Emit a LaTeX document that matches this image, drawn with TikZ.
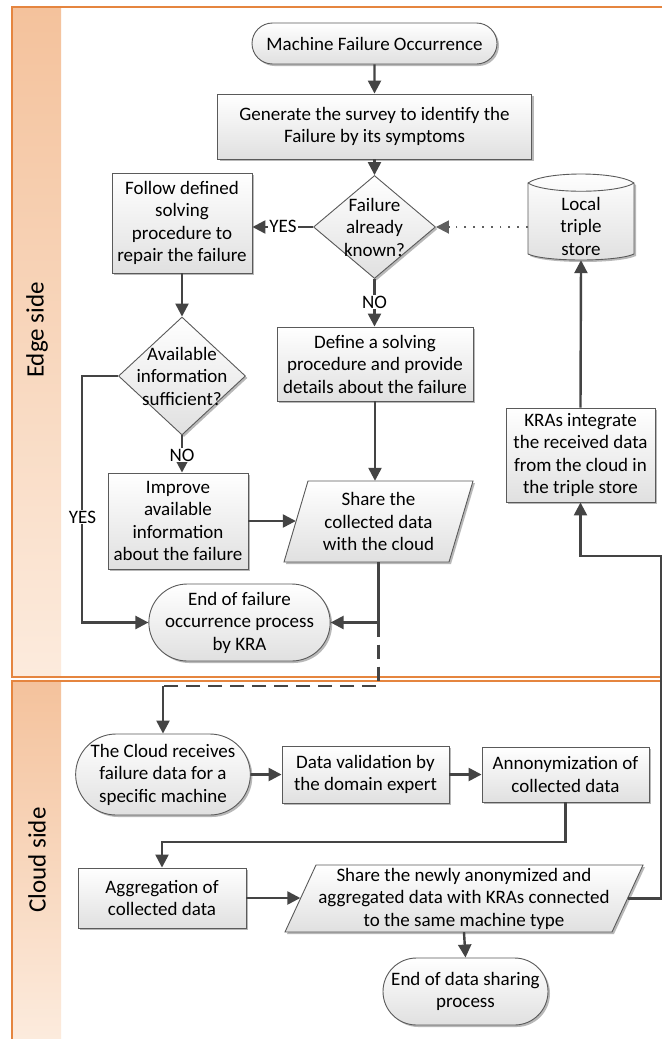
\documentclass[tikz,border=0pt]{standalone}
\usepackage{fontspec}
\setmainfont{Carlito}
\usetikzlibrary{arrows.meta,shapes.geometric,shapes.misc,shadows,calc}

\definecolor{lanebrd}{HTML}{E5853F}
\definecolor{stripTop}{HTML}{F4C29C}
\definecolor{stripBot}{HTML}{FCEBDD}
\definecolor{boxbrd}{HTML}{5A5A5A}
\definecolor{boxbot}{HTML}{E0E0E0}
\definecolor{flow}{HTML}{444444}

\newcommand\flowfont{\fontsize{19}{22.5}\selectfont}
\newcommand\lanefont{\fontsize{25}{29}\selectfont}

\tikzset{
  shapefill/.style={draw=boxbrd, line width=0.9pt, top color=white, bottom color=boxbot,
    drop shadow={shadow xshift=2pt, shadow yshift=-2pt, opacity=0.28, fill=black}},
  proc/.style={shapefill, rectangle, align=center, font=\flowfont, inner sep=1pt},
  term/.style={shapefill, rounded rectangle, align=center, font=\flowfont, inner sep=1pt},
  decision/.style={shapefill, diamond, inner sep=0pt},
  textonly/.style={align=center, font=\flowfont, inner sep=0pt},
  flowline/.style={draw=flow, line width=2.4pt},
  arr/.style={flowline, -{Triangle[length=13pt,width=13pt]}},
  dotline/.style={draw=flow!85, line width=1.8pt, dash pattern=on 1.8pt off 7pt,
    -{Triangle[length=13pt,width=13pt]}},
  dashline/.style={flowline, dash pattern=on 14pt off 8pt},
  lbl/.style={font=\flowfont, fill=white, inner sep=1pt},
  lanelbl/.style={font=\lanefont, rotate=90}
}

\begin{document}
\begin{tikzpicture}[x=1pt, y=-1pt]
  % page
  \fill[white] (0,0) rectangle (662,1039);
  \useasboundingbox (0,0) rectangle (662,1039);

  % swimlanes
  \path[top color=stripTop, bottom color=stripBot] (12,7) rectangle (61,677);
  \path[top color=stripTop, bottom color=stripBot] (12,681) rectangle (61,1039);
  \draw[lanebrd, line width=1.2pt] (662,7) -- (12,7) -- (12,677) -- (662,677);
  \draw[lanebrd, line width=1.2pt] (662,681) -- (12,681) -- (12,1045);
  \node[lanelbl] (edgelbl) at (37,330) {Edge side};
  \node[lanelbl] (cloudlbl) at (37,860) {Cloud side};

  % outlines of the data shapes
  \path[shapefill] (528,183) -- (528,254) .. controls (545,262) and (617,262) .. (634,254)
    -- (634,183) .. controls (617,171) and (545,171) .. (528,183) -- cycle;
  \draw[boxbrd, line width=0.9pt] (528,183) .. controls (545,194) and (617,194) .. (634,183);
  \path[shapefill] (284,562) -- (308,481) -- (473,481) -- (449,562) -- cycle;
  \path[shapefill] (285,932) -- (316,865) -- (643,865) -- (612,932) -- cycle;

  % edge side
  \node[term, minimum width=247pt, minimum height=41pt] (start) at (374.5,43.5)
    {Machine Failure Occurrence};
  \node[proc, minimum width=314pt, minimum height=65pt] (gen) at (374.5,126.5)
    {Generate the survey to identify the\\Failure by its symptoms};
  \node[decision, minimum width=122pt, minimum height=103pt,
    label={[textonly]center:Failure\\already\\known?}] (q1) at (374.5,227) {};
  \node[proc, minimum width=140pt, minimum height=100pt] (follow) at (182,223)
    {Follow defined\\solving\\procedure to\\repair the failure};
  \node[decision, minimum width=127pt, minimum height=118pt,
    label={[textonly]center:Available\\information\\sufficient?}] (q2) at (182,376) {};
  \node[proc, minimum width=196pt, minimum height=74pt] (define) at (375,364)
    {Define a solving\\procedure and provide\\details about the failure};
  \node[textonly, minimum width=106pt, minimum height=68pt] (store) at (581,226)
    {Local\\triple\\store};
  \node[proc, minimum width=149pt, minimum height=94pt] (kra) at (580.5,455)
    {KRAs integrate\\the received data\\from the cloud in\\the triple store};
  \node[proc, minimum width=140pt, minimum height=96pt] (improve) at (178,521)
    {Improve\\available\\information\\about the failure};
  \node[textonly, minimum width=165pt, minimum height=81pt] (share1) at (378.5,521.5)
    {Share the\\collected data\\with the cloud};
  \node[term, minimum width=167pt, minimum height=77pt] (end1) at (239.5,622.5)
    {End of failure\\occurrence process\\by KRA};

  % cloud side
  \node[term, minimum width=168pt, minimum height=81pt] (cloud) at (163,774.5)
    {The Cloud receives\\failure data for a\\specific machine};
  \node[proc, minimum width=167pt, minimum height=57pt] (valid) at (365.5,774.5)
    {Data validation by\\the domain expert};
  \node[proc, minimum width=167pt, minimum height=55pt] (anon) at (565.5,774.5)
    {Annonymization of\\collected data};
  \node[proc, minimum width=168pt, minimum height=60pt] (aggr) at (162,898)
    {Aggregation of\\collected data};
  \node[textonly, minimum width=327pt, minimum height=67pt] (share2) at (464,898.5)
    {Share the newly anonymized and\\aggregated data with KRAs connected\\to the same machine type};
  \node[term, minimum width=167pt, minimum height=67pt] (end2) at (465.5,991.5)
    {End of data sharing\\process};

  % routing points
  \coordinate (j1) at (share1.south |- end1.east);
  \coordinate (d1) at (378.5,686);
  \coordinate (d2) at (163,686);
  \coordinate (r1) at (661,556);
  \coordinate (r2) at (565.5,842);
  \coordinate (s2e) at (627.5,898.5);

  % connectors, edge side
  \draw[arr] (start) -- (gen);
  \draw[arr] (gen.south) -- (q1.north);
  \draw[arr] (q1.west) -- (q1.west -| follow.east);
  \node[lbl] (yes1) at (283,226) {YES};
  \draw[arr] (q1.south) -- (q1.south |- define.north);
  \node[lbl] (no1) at (374.5,302) {NO};
  \draw[dotline] (store.west |- q1.east) -- (q1.east);
  \draw[arr] (follow.south) -- (q2.north);
  \draw[arr] (q2.south) -- (q2.south |- improve.north);
  \node[lbl] (no2) at (182,455) {NO};
  \draw[arr] (q2.west) -- ++(-36,0) |- (end1.west);
  \node[lbl] (yes2) at (82.5,517) {YES};
  \draw[arr] (define.south) -- (define.south |- share1.north);
  \draw[arr] (improve.east) -- (improve.east -| share1.west);
  \draw[arr] (share1.south) -- (j1) -- (end1.east);
  \draw[arr] (kra.north) -- (store.south);

  % connectors, cloud side
  \draw[dashline] (j1) -- (d1) -- (d2);
  \draw[arr] (d2) -- (cloud.north);
  \draw[arr] (cloud.east) -- (valid.west);
  \draw[arr] (valid.east) -- (anon.west);
  \draw[arr] (anon.south) -- (r2) -| (aggr.north);
  \draw[arr] (aggr.east) -- (aggr.east -| share2.west);
  \draw[arr] (share2.south) -- (end2.north);
  \draw[arr] (s2e) -| (r1) -| (kra.south);
\end{tikzpicture}
\end{document}
